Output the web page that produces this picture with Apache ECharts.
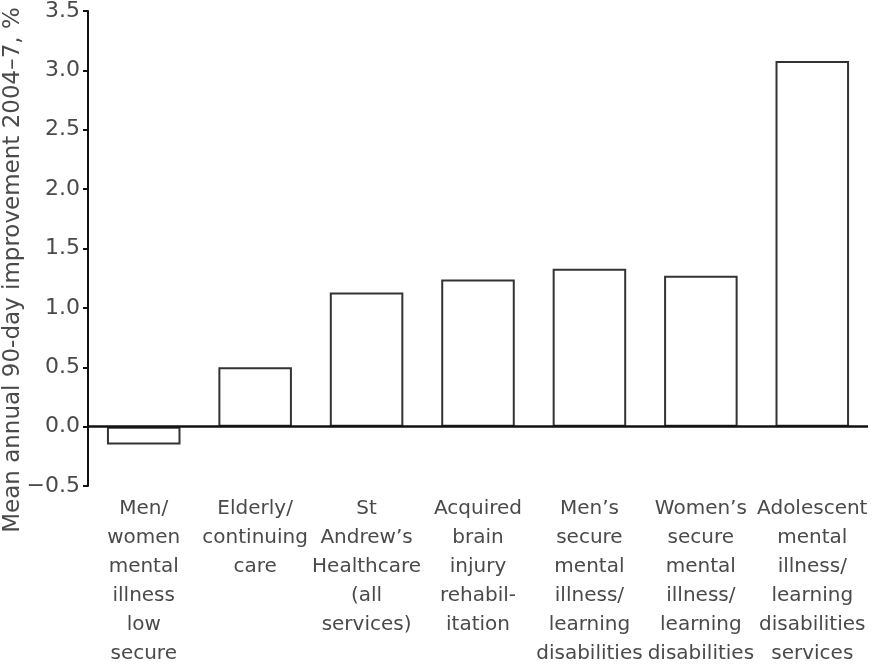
<!DOCTYPE html>
<html><head><meta charset="utf-8">
<script src="https://cdn.jsdelivr.net/npm/echarts@6/dist/echarts.min.js"></script>
<style>html,body{margin:0;padding:0;background:#fff;overflow:hidden}#c{width:875px;height:668px}</style>
</head><body><div id="c"></div>
<script>
const categories = [
  "Men/\nwomen\nmental\nillness\nlow\nsecure",
  "Elderly/\ncontinuing\ncare",
  "St\nAndrew’s\nHealthcare\n(all\nservices)",
  "Acquired\nbrain\ninjury\nrehabil-\nitation",
  "Men’s\nsecure\nmental\nillness/\nlearning\ndisabilities",
  "Women’s\nsecure\nmental\nillness/\nlearning\ndisabilities",
  "Adolescent\nmental\nillness/\nlearning\ndisabilities\nservices"
];
const values = [-0.15, 0.50, 1.13, 1.24, 1.33, 1.27, 3.08];
const yTicks = [-0.5, 0, 0.5, 1.0, 1.5, 2.0, 2.5, 3.0, 3.5];
const yTitle = "Mean annual 90-day improvement 2004–7, %";

const font = "'DejaVu Sans', sans-serif";
const chart = echarts.init(document.getElementById('c'), null, {renderer: 'canvas'});
chart.setOption({
  animation: false,
  backgroundColor: '#fff',
  grid: {left: 88, right: 7, top: 10, bottom: 178},
  xAxis: {
    type: 'category',
    data: categories,
    axisLine: {show: false, onZero: false},
    axisTick: {show: false},
    axisLabel: {
      interval: 0, color: '#4a4a4a', fontSize: 20, lineHeight: 29,
      fontFamily: font, margin: 8, align: 'center'
    }
  },
  yAxis: {
    type: 'value',
    min: yTicks[0], max: yTicks[yTicks.length - 1], interval: 0.5,
    axisLine: {show: true, lineStyle: {color: '#111', width: 2}},
    axisTick: {show: true, length: 5, lineStyle: {color: '#111', width: 2}},
    splitLine: {show: false},
    axisLabel: {
      color: '#4a4a4a', fontSize: 22, fontFamily: font, margin: 8,
      formatter: v => (v < 0 ? '\u2212' + (-v).toFixed(1) : v.toFixed(1))
    }
  },
  graphic: [{
    type: 'text',
    rotation: Math.PI / 2,
    x: 13, y: 270,
    style: {
      text: yTitle, fontSize: 23, fontFamily: font, fill: '#4a4a4a',
      align: 'center', verticalAlign: 'middle'
    }
  }],
  series: [{
    type: 'bar',
    data: values,
    barWidth: '66%',
    itemStyle: {color: '#fff', borderColor: '#333', borderWidth: 2},
    markLine: {
      silent: true, symbol: 'none', label: {show: false},
      lineStyle: {color: '#111', width: 2.5, type: 'solid'},
      data: [{yAxis: 0}]
    }
  }]
});
</script></body></html>
